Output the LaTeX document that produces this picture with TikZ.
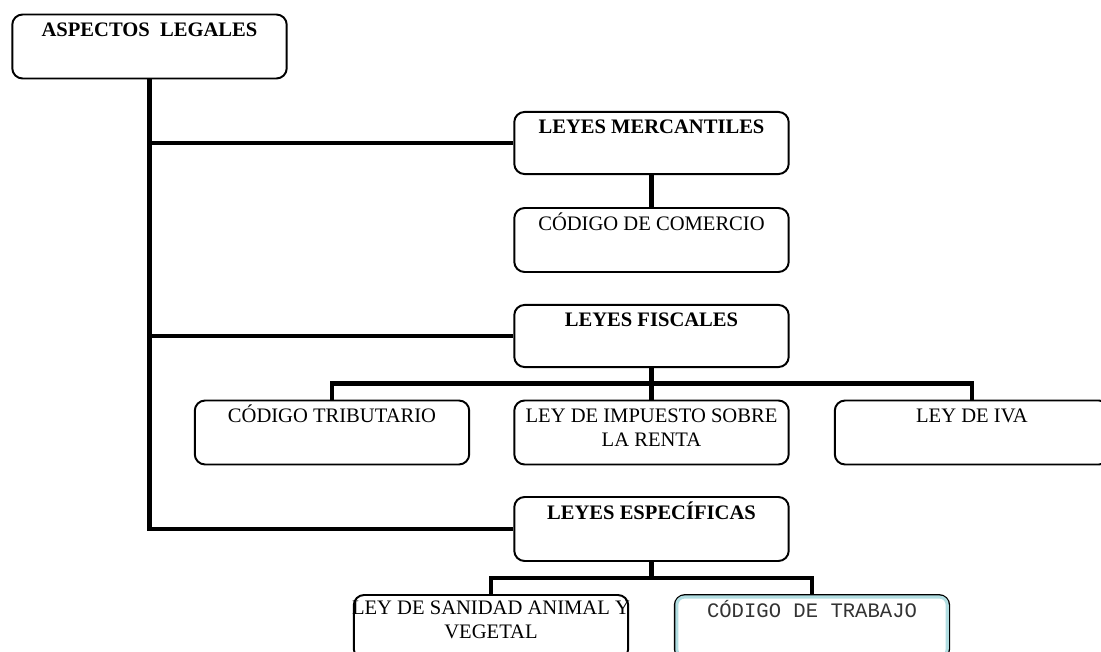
\documentclass[tikz,border=0pt]{standalone}
\usepackage{fontspec}
\setmainfont{Liberation Serif}
\newfontfamily\maquina{Liberation Mono}
\usetikzlibrary{calc}
\definecolor{azultrabajo}{RGB}{178,222,226}
\newcommand\doslineas[2]{\begin{tabular}[t]{@{}c@{}}#1\\#2\end{tabular}}
\begin{document}
\begin{tikzpicture}[x=0.583pt, y=-0.583pt, line join=miter,
		caja/.style={draw, line width=1.15pt, rounded corners=6pt, minimum width=160pt, minimum height=37.3pt, inner sep=0pt},
		texto/.style={anchor=base, inner sep=0pt, align=center, font=\fontsize{12}{14}\selectfont},
		titulo/.style={texto, font=\fontsize{12}{14}\selectfont\bfseries},
		rama/.style={line width=2.9pt}]
	\useasboundingbox (0,0) rectangle (1101,652);
	\clip (0,0) rectangle (1101,652);
	% cajas
	\node[caja] (asp) at (149.5,46.5) {};
	\node[caja, minimum height=36.2pt] (lm) at (651.5,143) {};
	\node[caja] (cc) at (651.5,240) {};
	\node[caja, minimum height=36.2pt] (lf) at (651.5,336) {};
	\node[caja] (ct) at (332,432.5) {};
	\node[caja] (lisr) at (651.5,432.5) {};
	\node[caja] (liva) at (972,432.5) {};
	\node[caja] (le) at (651.5,529) {};
	\node[caja] (lsav) at (491,627) {};
	\node[caja] (cdt) at (812,627) {};
	\draw[azultrabajo, line width=1.8pt, rounded corners=4.5pt] ($(cdt.north west)+(3,3)$) rectangle ($(cdt.south east)+(-3,-3)$);
	% textos
	\node[titulo] (asp-t) at ($(asp.north)+(0,23)$) {ASPECTOS\ \ LEGALES};
	\node[titulo] (lm-t) at ($(lm.north)+(0,23)$) {LEYES MERCANTILES};
	\node[texto] (cc-t) at ($(cc.north)+(0,23)$) {CÓDIGO DE COMERCIO};
	\node[titulo] (lf-t) at ($(lf.north)+(0,23)$) {LEYES FISCALES};
	\node[texto] (ct-t) at ($(ct.north)+(0,23)$) {CÓDIGO TRIBUTARIO};
	\node[texto] (lisr-t) at ($(lisr.north)+(0,23)$) {\doslineas{LEY DE IMPUESTO SOBRE}{LA RENTA}};
	\node[texto] (liva-t) at ($(liva.north)+(0,23)$) {LEY DE IVA};
	\node[titulo] (le-t) at ($(le.north)+(0,23)$) {LEYES ESPECÍFICAS};
	\node[texto] (lsav-t) at ($(lsav.north)+(0,20)$) {\doslineas{LEY DE SANIDAD ANIMAL Y}{VEGETAL}};
	\node[texto, font=\fontsize{12}{14}\selectfont\maquina, text=black!80] (cdt-t) at ($(cdt.north)+(0,23)$) {CÓDIGO DE TRABAJO};
	% ramas
	\draw[rama] (asp.south) |- (le.west);
	\draw[rama] (asp.south |- lm.west) -- (lm.west);
	\draw[rama] (asp.south |- lf.west) -- (lf.west);
	\draw[rama] (lm.south) -- (cc.north);
	\coordinate (bf) at ($(lf.south)!0.5!(lisr.north)$);
	\draw[rama] (lf.south) -- (lisr.north);
	\draw[rama] (ct.north) |- (bf) -| (liva.north);
	\coordinate (be) at ($(le.south)!0.5!(lsav.north -| le.south)$);
	\draw[rama] (le.south) -- (be);
	\draw[rama] (lsav.north) |- (be) -| (cdt.north);
\end{tikzpicture}
\end{document}
